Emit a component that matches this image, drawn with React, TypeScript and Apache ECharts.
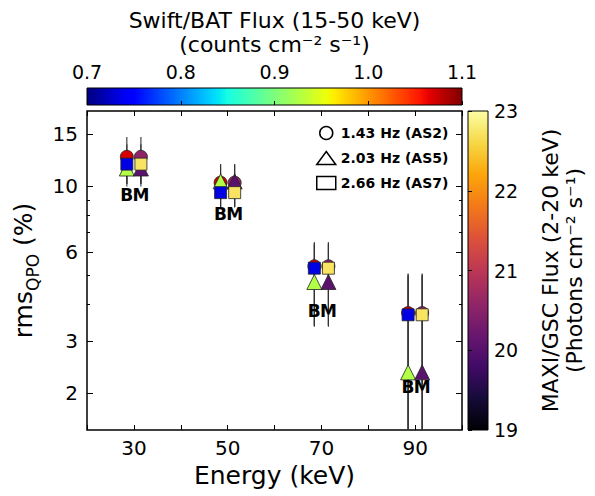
import React, { useEffect, useRef } from 'react';
import * as echarts from 'echarts';

// ---------- data ----------
const qpoLabels = ['1.43 Hz (AS2)', '2.03 Hz (AS5)', '2.66 Hz (AS7)'];
const qpoSymbols = ['circle', 'triangle', 'rect'];
const batEnergy = [28.5, 48.5, 68.5, 88.5];
const maxiEnergy = [31.5, 51.5, 71.5, 91.5];

const rmsAS2 = [12.6, 10.3, 5.37, 3.73];
const errUpAS2 = [2.1, 1.6, 1.1, 1.35];
const errLoAS2 = [2.4, 1.8, 2.0, 2.6];

const rmsAS5 = [11.5, 10.4, 4.75, 2.35];
const errUpAS5 = [1.8, 1.5, 1.7, 2.7];
const errLoAS5 = [1.5, 1.9, 1.4, 1.0];

const rmsAS7 = [11.9, 9.53, 5.29, 3.68];
const errUpAS7 = [2.0, 1.5, 1.1, 1.3];
const errLoAS7 = [1.7, 1.0, 1.9, 2.6];

const batFlux = [1.07, 0.926, 0.735];
const maxiFlux = [20.55, 20.04, 22.72];

const labelRms = [9.34, 8.05, 3.78, 2.1];
const instrumentLetters = ['B', 'M'];

const yMajorTicks = [2, 3, 6, 10, 15];
const yMinorTicks = [4, 5, 7, 8, 9];
const xLabelTicks = [30, 50, 70, 90];

// ---------- colormaps ----------
const jetR = [[0, 0], [0.35, 0], [0.66, 1], [0.89, 1], [1, 0.5]];
const jetG = [[0, 0], [0.125, 0], [0.375, 1], [0.64, 1], [0.91, 0], [1, 0]];
const jetB = [[0, 0.5], [0.11, 1], [0.34, 1], [0.65, 0], [1, 0]];
function seg(pts: number[][], t: number) {
  for (let i = 1; i < pts.length; i++) {
    if (t <= pts[i][0]) {
      const [t0, v0] = pts[i - 1];
      const [t1, v1] = pts[i];
      return v0 + ((t - t0) / (t1 - t0)) * (v1 - v0);
    }
  }
  return pts[pts.length - 1][1];
}
function jet(t: number) {
  const c = (v: number) => Math.round(v * 255);
  return `rgb(${c(seg(jetR, t))},${c(seg(jetG, t))},${c(seg(jetB, t))})`;
}
const jetColors = Array.from({ length: 81 }, (_, i) => jet(i / 80));
const infernoColors = ['#000004', '#160b39', '#420a68', '#6a176e', '#932667', '#bc3754', '#dd513a', '#f37819', '#fca50a', '#f6d746', '#fcffa4'];

const FONT = 'DejaVu Sans';
const LOG = (v: number) => Math.log10(v);
const yMin = LOG(1.5);
const yMax = LOG(18);

function buildOption() {
  const rmsAll = [rmsAS2, rmsAS5, rmsAS7];
  const upAll = [errUpAS2, errUpAS5, errUpAS7];
  const loAll = [errLoAS2, errLoAS5, errLoAS7];

  const errData: number[][] = [];
  rmsAll.forEach((rms, q) => {
    [batEnergy, maxiEnergy].forEach((xs) => {
      xs.forEach((x, i) => {
        errData.push([x, LOG(Math.max(rms[i] - loAll[q][i], 1.0)), LOG(rms[i] + upAll[q][i])]);
      });
    });
  });

  const scatterSeries: any[] = [];
  rmsAll.forEach((rms, q) => {
    [
      { xs: batEnergy, flux: batFlux[q] },
      { xs: maxiEnergy, flux: maxiFlux[q] },
    ].forEach(({ xs, flux }) => {
      scatterSeries.push({
        type: 'scatter',
        name: qpoLabels[q],
        xAxisIndex: 0,
        yAxisIndex: 0,
        symbol: qpoSymbols[q],
        symbolSize: q === 0 ? 13 : q === 1 ? 15 : 12,
        itemStyle: { borderColor: '#222', borderWidth: 0.8, opacity: 1 },
        data: xs.map((x, i) => [x, LOG(rms[i]), flux]),
        z: 3,
      });
    });
  });

  // [x, y, letterIndex]
  const labelData: number[][] = [];
  [batEnergy, maxiEnergy].forEach((xs, k) => {
    xs.forEach((x, i) => labelData.push([x, LOG(labelRms[i]), k]));
  });

  const jetGradient = {
    type: 'linear', x: 0, y: 0, x2: 1, y2: 0,
    colorStops: jetColors.map((c, i) => ({ offset: i / (jetColors.length - 1), color: c })),
  };
  const infernoGradient = {
    type: 'linear', x: 0, y: 1, x2: 0, y2: 0,
    colorStops: infernoColors.map((c, i) => ({ offset: i / (infernoColors.length - 1), color: c })),
  };

  const tickStyle = { color: '#000', width: 1 };

  return {
    animation: false,
    backgroundColor: '#fff',
    textStyle: { fontFamily: FONT, color: '#000' },
    grid: [
      { left: 87, top: 111, width: 375, height: 319, show: true, borderColor: '#000', borderWidth: 1.5, backgroundColor: 'transparent' },
      { left: 87, top: 88, width: 375, height: 17, show: true, borderColor: '#000', borderWidth: 1, backgroundColor: jetGradient },
      { left: 468, top: 111, width: 20, height: 319, show: true, borderColor: '#000', borderWidth: 1, backgroundColor: infernoGradient },
    ],
    legend: {
      orient: 'vertical',
      left: 316,
      top: 125,
      padding: 0,
      itemGap: 9,
      itemWidth: 19,
      itemHeight: 13,
      selectedMode: false,
      data: qpoLabels.map((n, q) => ({
        name: n,
        icon: qpoSymbols[q],
        itemStyle: { color: '#fff', borderColor: '#000', borderWidth: 1.5 },
      })),
      textStyle: { fontFamily: FONT, fontSize: 14, fontWeight: 'bold', color: '#000', lineHeight: 16 },
    },
    visualMap: [
      { type: 'continuous', show: false, min: 0.7, max: 1.1, dimension: 2, seriesIndex: [1, 3, 5], inRange: { color: jetColors } },
      { type: 'continuous', show: false, min: 19, max: 23, dimension: 2, seriesIndex: [2, 4, 6], inRange: { color: infernoColors } },
    ],
    xAxis: [
      {
        type: 'value', gridIndex: 0, position: 'bottom', min: 20, max: 100, interval: 10,
        axisLine: { show: false }, splitLine: { show: false },
        axisTick: { inside: true, length: 5, lineStyle: tickStyle },
        axisLabel: { color: '#000', fontSize: 20, margin: 8, fontFamily: FONT, formatter: (v: number) => (xLabelTicks.includes(v) ? String(v) : '') },
        name: 'Energy (keV)', nameLocation: 'middle', nameGap: 33,
        nameTextStyle: { fontSize: 25, color: '#000', fontFamily: FONT },
      },
      {
        type: 'value', gridIndex: 0, position: 'top', min: 20, max: 100, interval: 10,
        axisLine: { show: false }, splitLine: { show: false },
        axisTick: { inside: true, length: 5, lineStyle: tickStyle },
        axisLabel: { show: false },
      },
      {
        type: 'value', gridIndex: 1, position: 'top', min: 0.7, max: 1.1, interval: 0.1,
        axisLine: { show: false }, splitLine: { show: false },
        axisTick: { inside: false, length: 4, lineStyle: tickStyle },
        axisLabel: { color: '#000', fontSize: 19, margin: 7, fontFamily: FONT, formatter: (v: number) => v.toFixed(1) },
        name: 'Swift/BAT Flux (15-50 keV)\n(counts cm\u207B\u00B2 s\u207B\u00B9)',
        nameLocation: 'middle', nameGap: 32,
        nameTextStyle: { fontSize: 22, lineHeight: 24, color: '#000', fontFamily: FONT },
      },
      { type: 'value', gridIndex: 2, show: false, min: 0, max: 1 },
    ],
    yAxis: [
      {
        type: 'value', gridIndex: 0, position: 'left', min: yMin, max: yMax,
        axisLine: { show: false }, splitLine: { show: false },
        axisTick: { inside: true, length: 6, lineStyle: tickStyle, customValues: yMajorTicks.map(LOG) },
        axisLabel: {
          color: '#000', fontSize: 20, margin: 9, fontFamily: FONT,
          customValues: yMajorTicks.map(LOG),
          formatter: (v: number) => String(Math.round(Math.pow(10, v))),
        },
        name: '{a|rms}{b|QPO}{a| (%)}',
        nameLocation: 'middle', nameRotate: 90, nameGap: 38,
        nameTextStyle: {
          color: '#000',
          rich: {
            a: { fontSize: 25, lineHeight: 36, color: '#000', fontFamily: FONT, verticalAlign: 'middle' },
            b: { fontSize: 17, color: '#000', fontFamily: FONT, verticalAlign: 'bottom' },
          },
        },
      },
      {
        type: 'value', gridIndex: 0, position: 'left', min: yMin, max: yMax,
        axisLine: { show: false }, splitLine: { show: false },
        axisTick: { inside: true, length: 3, lineStyle: tickStyle, customValues: yMinorTicks.map(LOG) },
        axisLabel: { show: false, customValues: yMinorTicks.map(LOG) },
      },
      {
        type: 'value', gridIndex: 0, position: 'right', min: yMin, max: yMax,
        axisLine: { show: false }, splitLine: { show: false },
        axisTick: { inside: true, length: 6, lineStyle: tickStyle, customValues: yMajorTicks.map(LOG) },
        axisLabel: { show: false, customValues: yMajorTicks.map(LOG) },
      },
      {
        type: 'value', gridIndex: 0, position: 'right', min: yMin, max: yMax,
        axisLine: { show: false }, splitLine: { show: false },
        axisTick: { inside: true, length: 3, lineStyle: tickStyle, customValues: yMinorTicks.map(LOG) },
        axisLabel: { show: false, customValues: yMinorTicks.map(LOG) },
      },
      { type: 'value', gridIndex: 1, show: false, min: 0, max: 1 },
      {
        type: 'value', gridIndex: 2, position: 'right', min: 19, max: 23, interval: 1,
        axisLine: { show: false }, splitLine: { show: false },
        axisTick: { inside: false, length: 4, lineStyle: tickStyle },
        axisLabel: { color: '#000', fontSize: 19, margin: 6, fontFamily: FONT },
        name: 'MAXI/GSC Flux (2-20 keV)\n(Photons cm\u207B\u00B2 s\u207B\u00B9)',
        nameLocation: 'middle', nameRotate: 90, nameGap: 50,
        nameTextStyle: { fontSize: 22, lineHeight: 24, color: '#000', fontFamily: FONT },
      },
    ],
    series: [
      {
        type: 'custom',
        name: 'errors',
        xAxisIndex: 0,
        yAxisIndex: 0,
        clip: true,
        z: 1,
        data: errData,
        renderItem: (params: any, api: any) => {
          const x = api.value(0);
          const lo = api.coord([x, api.value(1)]);
          const hi = api.coord([x, api.value(2)]);
          return {
            type: 'line',
            shape: { x1: lo[0], y1: lo[1], x2: hi[0], y2: hi[1] },
            style: { stroke: '#333', lineWidth: 1.1 },
          };
        },
      },
      ...scatterSeries,
      {
        type: 'custom',
        name: 'letters',
        xAxisIndex: 0,
        yAxisIndex: 0,
        z: 5,
        data: labelData,
        renderItem: (params: any, api: any) => {
          const p = api.coord([api.value(0), api.value(1)]);
          return {
            type: 'text',
            x: p[0],
            y: p[1],
            style: {
              text: instrumentLetters[api.value(2)],
              fill: '#000',
              font: `bold 17px "${FONT}"`,
              align: 'center',
              verticalAlign: 'middle',
            },
          };
        },
      },
    ],
  };
}

export default function App() {
  const ref = useRef<HTMLDivElement>(null);
  useEffect(() => {
    if (!ref.current) return;
    const chart = echarts.init(ref.current, null, { renderer: 'svg' });
    chart.setOption(buildOption() as any);
    return () => chart.dispose();
  }, []);
  return (
    <div
      ref={ref}
      style={{ position: 'fixed', left: 0, top: 0, width: 595, height: 496, background: '#fff' }}
    />
  );
}
